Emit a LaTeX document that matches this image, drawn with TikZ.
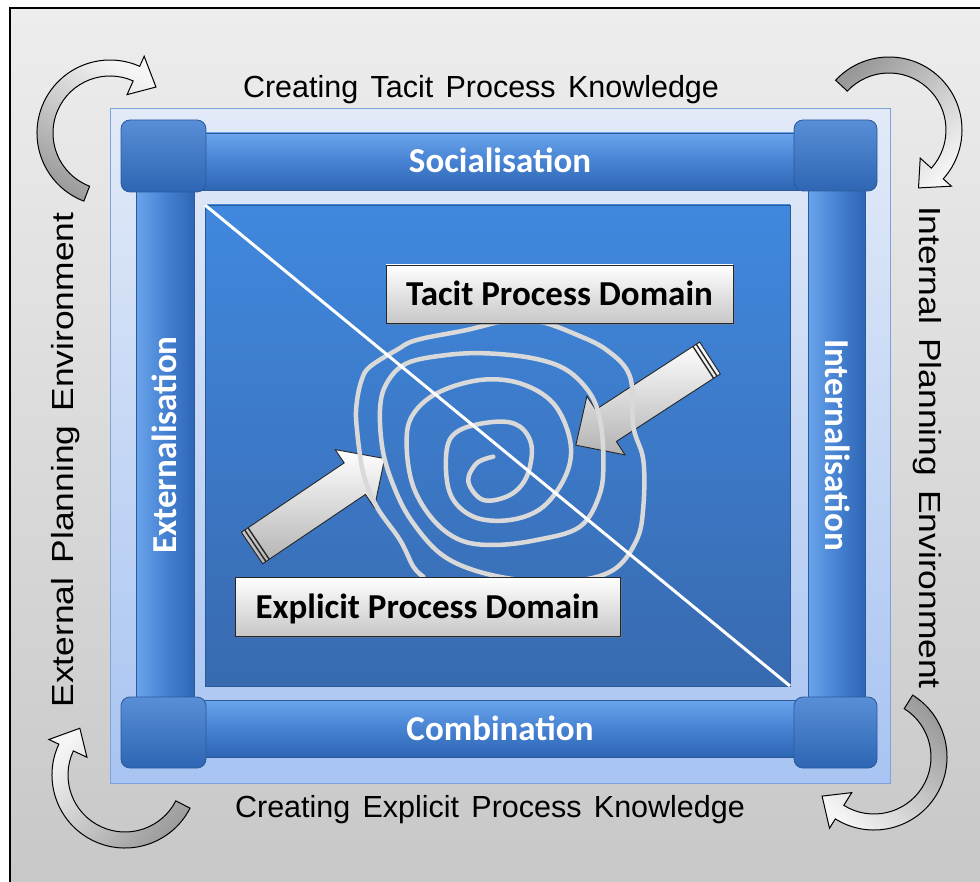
\documentclass[tikz,border=0pt]{standalone}
\usepackage{fontspec}
\newfontfamily\calfont{Carlito}
\newfontfamily\arifont[WordSpace=1.45]{Liberation Sans}
\usetikzlibrary{shadows}

\definecolor{barblue}{HTML}{4682D2}
\definecolor{barlight}{HTML}{6AA4EC}
\definecolor{bardark}{HTML}{2E66B4}
\definecolor{barline}{HTML}{2B5A9A}
\definecolor{panelhi}{HTML}{E2EAF8}
\definecolor{panello}{HTML}{A8C4F2}
\definecolor{panelline}{HTML}{7EA2DA}
\definecolor{fieldhi}{HTML}{4088DE}
\definecolor{fieldlo}{HTML}{386AB0}
\definecolor{spiralgrey}{HTML}{D9D9D9}

\tikzset{
	barlabel/.style={draw=barline, line width=0.8pt, text=white,
		font=\calfont\bfseries\fontsize{35}{40}\selectfont, text height=23pt, text depth=0pt},
	hbar/.style={barlabel, top color=barlight, bottom color=bardark, middle color=barblue},
	vbar/.style={barlabel, left color=barlight, right color=bardark, middle color=barblue},
	cornerbox/.style={draw=barline, line width=0.8pt, rounded corners=9pt, top color=barblue!90!white, bottom color=bardark},
	domainbox/.style={draw=black!85, line width=0.8pt, top color=white, bottom color=black!22,
		font=\calfont\bfseries\fontsize{35}{40}\selectfont, text height=23pt, text depth=0pt,
		drop shadow={opacity=0.45}},
	outertext/.style={font=\arifont\fontsize{30.5}{36}\selectfont, text height=22pt, text depth=0pt, inner sep=0pt},
	turnfill/.style={draw=black, line width=1pt, top color=black!4, bottom color=black!40},
	pushfill/.style={draw=black!85, line width=0.9pt, top color=white, bottom color=black!30},
	pics/turnarrow/.style n args={3}{code={
		\shade[turnfill, shading angle=#3] (#1:73) arc[start angle=#1, end angle=#2, radius=73]
			-- (#2:84) -- ({#2+21}:65) -- (#2:42) -- (#2:57)
			arc[start angle=#2, end angle=#1, radius=57] -- cycle;
	}},
	pics/pusharrow/.style={code={
		\shade[pushfill] (0,-19) -- (124,-19) -- (124,-35) -- (160,0) -- (124,35) -- (124,19) -- (0,19) -- cycle;
		\draw[black!85, line width=1.4pt] (4,-19) -- (4,19);
		\draw[black!85, line width=1.4pt] (8,-19) -- (8,19);
	}},
}

\begin{document}
\begin{tikzpicture}[x=1pt, y=-1pt]
	\useasboundingbox (0,0) rectangle (980,882);
	% background and frame
	\shade[top color=black!7, bottom color=black!22] (10,8) rectangle (1000,900);
	\draw[line width=1.3pt] (1000,8) -- (10,8) -- (10,900);

	% turning arrows in the corners
	\pic at (110,133) {turnarrow={111}{294}{-30}};
	\pic at (889,130) {turnarrow={223}{402}{-135}};
	\pic at (874,757) {turnarrow={302}{482}{135}};
	\pic at (125,775) {turnarrow={27}{205}{45}};

	% light panel
	\shade[top color=panelhi, bottom color=panello] (110,109) rectangle (890,783);
	\draw[panelline, line width=1pt] (110,109) rectangle (890,783);

	% bars
	\node[hbar, minimum width=600pt, minimum height=57pt] (soc) at (500,161.5) {Socialisation};
	\node[hbar, minimum width=600pt, minimum height=57pt] (comb) at (500,728.5) {Combination};
	\node[vbar, rotate=90, minimum width=520pt, minimum height=58pt] (ext) at (165,445) {Externalisation};
	\node[vbar, rotate=-90, minimum width=520pt, minimum height=57pt] (int) at (836.5,445) {Internalisation};

	% corner blocks
	\shade[cornerbox] (121,120) rectangle (206,192);
	\shade[cornerbox] (794,120) rectangle (877,191);
	\shade[cornerbox] (121,697) rectangle (206,768);
	\shade[cornerbox] (794,697) rectangle (877,768);

	% inner field
	\shade[top color=fieldhi, bottom color=fieldlo] (205,205) rectangle (790,686);
	\draw[barline, line width=0.8pt] (205,205) rectangle (790,686);

	% arrows pushing into the spiral
	\pic[rotate=34] at (252,548) {pusharrow};
	\pic[rotate=213] at (710,358) {pusharrow};

	% spiral
	\begin{scope}[shift={(220,260)}, scale=1/3]
		\draw[spiralgrey, line width=4.5pt, line cap=round, line join=round] plot[smooth, tension=0.6] coordinates {
			(820,590) (770,610) (745,665) (790,720) (870,705) (920,650) (935,560) (900,500) (830,485)
			(720,510) (680,570) (690,700) (760,770) (870,780) (970,740) (1040,640) (1050,540) (1000,430)
			(900,370) (780,360) (650,400) (575,470) (560,560) (580,680) (640,780) (720,840) (820,855)
			(950,840) (1080,800) (1140,700) (1150,590) (1140,480) (1110,400) (1040,330) (940,295)
			(800,280) (680,285) (560,310) (500,370) (480,450) (490,580) (530,700) (580,790) (660,880)
			(760,930) (900,960) (1050,965) (1180,930) (1250,840) (1270,740) (1270,600) (1240,500)
			(1230,350) (1160,270) (1060,220) (960,185) (870,180) (740,210) (590,240) (530,270)
			(450,320) (425,360) (410,430) (410,500) (430,640) (470,740) (540,840) (580,920) (610,950)};
	\end{scope}

	% diagonal
	\draw[white, line width=3pt] (205,205) -- (790,686);

	% domains
	\node[domainbox, minimum width=347pt, minimum height=58pt] (tacit) at (559.5,294) {Tacit Process Domain};
	\node[domainbox, minimum width=385pt, minimum height=59pt] (explicit) at (427.5,606.5) {Explicit Process Domain};

	% outer labels
	\node[outertext] (creattacit) at (481,87) {Creating Tacit Process Knowledge};
	\node[outertext] (createxpl) at (490,806.5) {Creating Explicit Process Knowledge};
	\node[outertext, rotate=90, xscale=1.16] (extenv) at (62.5,460) {External Planning Environment};
	\node[outertext, rotate=-90, xscale=1.16] (intenv) at (930,447.5) {Internal Planning Environment};
\end{tikzpicture}
\end{document}
